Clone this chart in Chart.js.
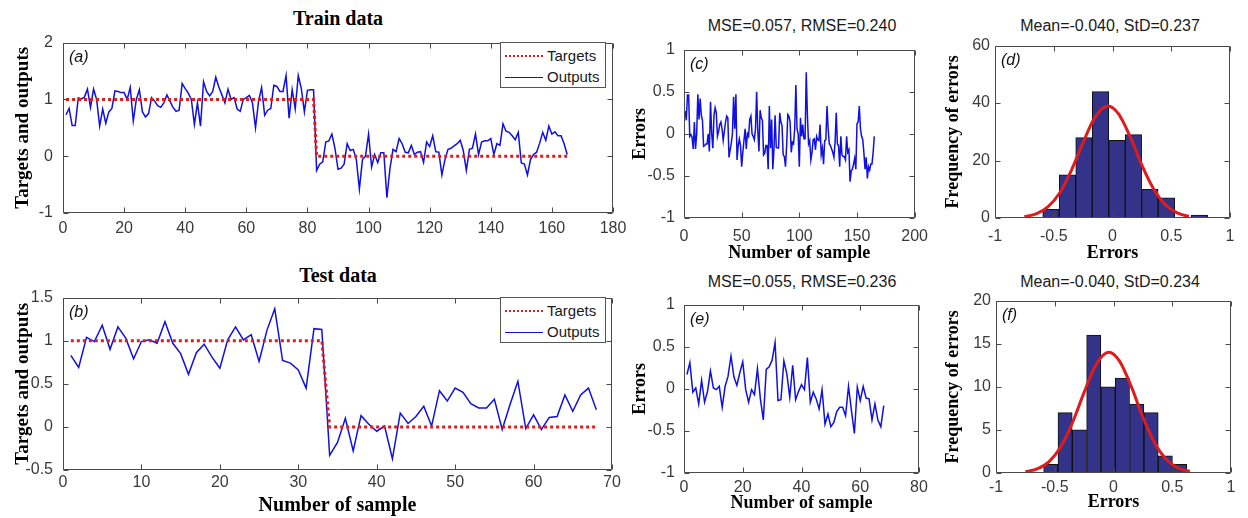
<!DOCTYPE html>
<html>
<head>
<meta charset="utf-8">
<script src="https://cdn.jsdelivr.net/npm/chart.js@4.4.1/dist/chart.umd.min.js"></script>
<style>
  html, body { margin: 0; padding: 0; background: #fff; }
  body { width: 1248px; height: 518px; position: relative; overflow: hidden; }
  canvas { position: absolute; }
  .ttl { position: absolute; transform: translate(-50%, -50%); white-space: nowrap; line-height: 1; }
  .serif { font-family: 'Liberation Serif', 'Times New Roman', serif; font-weight: bold; font-size: 20px; color: #000; }
  .sans { font-family: 'Liberation Sans', Arial, sans-serif; font-size: 16px; color: #1a1a1a; }
  .legend { position: absolute; width: 106px; height: 46px; border: 1px solid #555; background: #fff; box-sizing: border-box;
            font-family: 'Liberation Sans', Arial, sans-serif; font-size: 15px; color: #1a1a1a; }
  .legend .row { position: absolute; left: 0; width: 100%; height: 20px; line-height: 20px; }
  .legend .swatch { position: absolute; left: 4px; width: 38px; }
  .legend .lbl { position: absolute; left: 46px; top: 0; }
</style>
</head>
<body>
<div class="ttl serif" style="left:338px; top:18px;">Train data</div>
<div class="ttl serif" style="left:338px; top:275px;">Test data</div>
<div class="ttl sans" style="left:802px; top:26px;">MSE=0.057, RMSE=0.240</div>
<div class="ttl sans" style="left:1110px; top:26px;">Mean=-0.040, StD=0.237</div>
<div class="ttl sans" style="left:802px; top:282px;">MSE=0.055, RMSE=0.236</div>
<div class="ttl sans" style="left:1110px; top:282px;">Mean=-0.040, StD=0.234</div>

<canvas id="train-chart" width="635" height="220" style="left:0px; top:23px;"></canvas>
<canvas id="test-chart" width="634" height="240" style="left:0px; top:278px;"></canvas>
<canvas id="train-err" width="313" height="235" style="left:624px; top:31px;"></canvas>
<canvas id="train-hist" width="308" height="235" style="left:938px; top:31px;"></canvas>
<canvas id="test-err" width="313" height="232" style="left:624px; top:286px;"></canvas>
<canvas id="test-hist" width="308" height="232" style="left:939px; top:286px;"></canvas>

<div class="legend" style="left:500px; top:42px;">
  <div class="row" style="top:3px;"><div class="swatch" style="top:9px; border-top:2px dotted #e01b1b;"></div><span class="lbl">Targets</span></div>
  <div class="row" style="top:24px;"><div class="swatch" style="top:10px; border-top:1px solid #1010e0;"></div><span class="lbl">Outputs</span></div>
</div>
<div class="legend" style="left:500px; top:297px;">
  <div class="row" style="top:3px;"><div class="swatch" style="top:9px; border-top:2px dotted #e01b1b;"></div><span class="lbl">Targets</span></div>
  <div class="row" style="top:24px;"><div class="swatch" style="top:10px; border-top:1px solid #1010e0;"></div><span class="lbl">Outputs</span></div>
</div>

<script>
(function () {
  // ---- data ----
  var trainTargets = [
    1, 1, 1, 1, 1, 1, 1, 1, 1, 1,
    1, 1, 1, 1, 1, 1, 1, 1, 1, 1,
    1, 1, 1, 1, 1, 1, 1, 1, 1, 1,
    1, 1, 1, 1, 1, 1, 1, 1, 1, 1,
    1, 1, 1, 1, 1, 1, 1, 1, 1, 1,
    1, 1, 1, 1, 1, 1, 1, 1, 1, 1,
    1, 1, 1, 1, 1, 1, 1, 1, 1, 1,
    1, 1, 1, 1, 1, 1, 1, 1, 1, 1,
    1, 1, 0, 0, 0, 0, 0, 0, 0, 0,
    0, 0, 0, 0, 0, 0, 0, 0, 0, 0,
    0, 0, 0, 0, 0, 0, 0, 0, 0, 0,
    0, 0, 0, 0, 0, 0, 0, 0, 0, 0,
    0, 0, 0, 0, 0, 0, 0, 0, 0, 0,
    0, 0, 0, 0, 0, 0, 0, 0, 0, 0,
    0, 0, 0, 0, 0, 0, 0, 0, 0, 0,
    0, 0, 0, 0, 0, 0, 0, 0, 0, 0,
    0, 0, 0, 0, 0
  ];
  var trainOutputs = [
    0.73, 0.84, 0.54, 0.54, 1.03, 1.01, 1.04, 1.18, 0.86, 1.18,
    1.00, 0.53, 0.83, 0.58, 0.78, 0.84, 1.15, 1.14, 1.12, 1.12,
    1.00, 1.21, 0.62, 1.00, 1.17, 0.78, 0.69, 0.75, 1.03, 0.97,
    0.89, 0.86, 0.94, 1.08, 0.97, 0.86, 0.79, 0.81, 1.28, 1.19,
    1.11, 1.00, 0.56, 0.94, 0.53, 1.31, 1.14, 1.06, 1.14, 1.39,
    1.22, 1.08, 0.94, 1.18, 1.00, 1.03, 0.83, 0.79, 1.00, 1.03,
    1.07, 0.94, 0.50, 0.97, 1.21, 0.72, 0.81, 0.84, 1.25, 1.23,
    1.14, 1.14, 1.42, 0.67, 1.17, 0.83, 1.42, 1.19, 0.78, 1.16,
    1.17, 1.17, -0.25, -0.14, -0.10, 0.25, 0.27, 0.39, 0.14, -0.23,
    -0.21, -0.14, 0.22, 0.10, 0.12, -0.06, -0.58, -0.06, 0.00, 0.39,
    -0.19, 0.03, -0.11, 0.06, 0.06, -0.73, -0.22, 0.12, 0.08, 0.31,
    0.22, 0.07, 0.06, 0.19, 0.03, 0.07, 0.08, -0.11, 0.25, 0.17,
    0.36, 0.08, 0.07, -0.33, -0.06, 0.12, 0.14, 0.18, 0.22, 0.28,
    0.10, -0.25, 0.12, 0.14, 0.39, 0.03, 0.25, 0.27, 0.27, 0.31,
    0.03, 0.22, 0.19, 0.57, 0.44, 0.42, 0.36, 0.29, 0.42, -0.12,
    -0.14, -0.33, -0.06, 0.03, 0.07, 0.23, 0.42, 0.28, 0.53, 0.39,
    0.43, 0.36, 0.36, 0.22, 0.03
  ];
  var trainErrors = [
    0.27, 0.16, 0.46, 0.46, -0.03, -0.01, -0.04, -0.18, 0.14, -0.18,
    0.00, 0.47, 0.17, 0.42, 0.22, 0.16, -0.15, -0.14, -0.12, -0.12,
    0.00, -0.21, 0.38, 0.00, -0.17, 0.22, 0.31, 0.25, -0.03, 0.03,
    0.11, 0.14, 0.06, -0.08, 0.03, 0.14, 0.21, 0.19, -0.28, -0.19,
    -0.11, 0.00, 0.44, 0.06, 0.47, -0.31, -0.14, -0.06, -0.14, -0.39,
    -0.22, -0.08, 0.06, -0.18, 0.00, -0.03, 0.17, 0.21, 0.00, -0.03,
    -0.07, 0.06, 0.50, 0.03, -0.21, 0.28, 0.19, 0.16, -0.25, -0.23,
    -0.14, -0.14, -0.42, 0.33, -0.17, 0.17, -0.42, -0.19, 0.22, -0.16,
    -0.17, -0.17, 0.25, 0.14, 0.10, -0.25, -0.27, -0.39, -0.14, 0.23,
    0.21, 0.14, -0.22, -0.10, -0.12, 0.06, 0.58, 0.06, 0.00, -0.39,
    0.19, -0.03, 0.11, -0.06, -0.06, 0.73, 0.22, -0.12, -0.08, -0.31,
    -0.22, -0.07, -0.06, -0.19, -0.03, -0.07, -0.08, 0.11, -0.25, -0.17,
    -0.36, -0.08, -0.07, 0.33, 0.06, -0.12, -0.14, -0.18, -0.22, -0.28,
    -0.10, 0.25, -0.12, -0.14, -0.39, -0.03, -0.25, -0.27, -0.27, -0.31,
    -0.03, -0.22, -0.19, -0.57, -0.44, -0.42, -0.36, -0.29, -0.42, 0.12,
    0.14, 0.33, 0.06, -0.03, -0.07, -0.23, -0.42, -0.28, -0.53, -0.39,
    -0.43, -0.36, -0.36, -0.22, -0.03
  ];

  var testTargets = [
    1, 1, 1, 1, 1, 1, 1, 1, 1, 1,
    1, 1, 1, 1, 1, 1, 1, 1, 1, 1,
    1, 1, 1, 1, 1, 1, 1, 1, 1, 1,
    1, 1, 1, 0, 0, 0, 0, 0, 0, 0,
    0, 0, 0, 0, 0, 0, 0, 0, 0, 0,
    0, 0, 0, 0, 0, 0, 0, 0, 0, 0,
    0, 0, 0, 0, 0, 0, 0, 0
  ];
  var testOutputs = [
    0.83, 0.69, 1.04, 0.99, 1.18, 0.90, 1.16, 1.03, 0.79, 0.99,
    1.01, 0.97, 1.22, 0.97, 0.85, 0.61, 0.86, 0.96, 0.81, 0.68,
    1.01, 1.16, 1.01, 1.07, 0.76, 1.12, 1.37, 0.77, 0.74, 0.66,
    0.45, 1.14, 1.13, -0.33, -0.18, 0.10, -0.28, 0.13, 0.03, -0.05,
    0.01, -0.37, 0.16, 0.04, 0.12, 0.24, 0.01, 0.42, 0.30, 0.45,
    0.40, 0.27, 0.22, 0.22, 0.32, -0.03, 0.26, 0.53, -0.02, 0.14,
    -0.03, 0.11, 0.12, 0.37, 0.18, 0.37, 0.45, 0.20
  ];
  var testErrors = [
    0.17, 0.31, -0.04, 0.01, -0.18, 0.10, -0.16, -0.03, 0.21, 0.01,
    -0.01, 0.03, -0.22, 0.03, 0.15, 0.39, 0.14, 0.04, 0.19, 0.32,
    -0.01, -0.16, -0.01, -0.07, 0.24, -0.12, -0.37, 0.23, 0.26, 0.34,
    0.55, -0.14, -0.13, 0.33, 0.18, -0.10, 0.28, -0.13, -0.03, 0.05,
    -0.01, 0.37, -0.16, -0.04, -0.12, -0.24, -0.01, -0.42, -0.30, -0.45,
    -0.40, -0.27, -0.22, -0.22, -0.32, 0.03, -0.26, -0.53, 0.02, -0.14,
    0.03, -0.11, -0.12, -0.37, -0.18, -0.37, -0.45, -0.20
  ];

  // histograms: bin centres and counts, plus points
  var trainBinCenters = [-0.524, -0.383, -0.243, -0.102, 0.038, 0.178, 0.318, 0.459, 0.599, 0.740];
  var trainBinCounts = [3, 15, 28, 44, 27, 29, 10, 7, 0, 1];
  var testBinCenters = [-0.534, -0.412, -0.290, -0.168, -0.046, 0.076, 0.198, 0.320, 0.441, 0.563];
  var testBinCounts = [1, 7, 5, 16, 10, 11, 8, 7, 2, 1];
  var fitX = [-0.75, -0.65, -0.55, -0.45, -0.35, -0.25, -0.15, -0.04, 0.05, 0.15, 0.25, 0.35, 0.45, 0.55, 0.65];
  var trainFitY = [0.43, 1.42, 3.85, 8.7, 16.6, 26.3, 35.0, 39.0, 36.3, 28.3, 18.4, 10.1, 4.6, 1.76, 0.56];
  var testFitY = [0.14, 0.47, 1.30, 3.02, 5.82, 9.36, 12.54, 14.0, 13.0, 10.07, 6.5, 3.49, 1.56, 0.58, 0.18];

  // tick values
  var trainXTicks = [0, 20, 40, 60, 80, 100, 120, 140, 160, 180];
  var trainYTicks = [-1, 0, 1, 2];
  var testXTicks = [0, 10, 20, 30, 40, 50, 60, 70];
  var testYTicks = [-0.5, 0, 0.5, 1, 1.5];
  var trainErrXTicks = [0, 50, 100, 150, 200];
  var testErrXTicks = [0, 20, 40, 60, 80];
  var errYTicks = [-1, -0.5, 0, 0.5, 1];
  var histXTicks = [-1, -0.5, 0, 0.5, 1];
  var trainHistYTicks = [0, 20, 40, 60];
  var testHistYTicks = [0, 5, 10, 15, 20];

  var SANS = "'Liberation Sans', Arial, sans-serif";
  var SERIF = "'Liberation Serif', 'Times New Roman', serif";
  var AXIS = '#4a4a4a';
  var TICK = '#3a3a3a';
  var BLUE = '#1010e0';
  var RED = '#e01b1b';
  var NAVY = '#33338a';

  function points(values) {
    return values.map(function (v, i) { return { x: i + 1, y: v }; });
  }
  function pairs(xs, ys) {
    return xs.map(function (x, i) { return { x: x, y: ys[i] }; });
  }

  function scaleOpts(o) {
    return {
      type: 'linear',
      min: o.min,
      max: o.max,
      offset: false,
      grid: { display: false, drawTicks: false },
      border: { display: false },
      afterBuildTicks: function (scale) {
        scale.ticks = o.ticks.map(function (v) { return { value: v }; });
      },
      afterFit: function (scale) {
        if (o.axis === 'x') { scale.height = o.size; } else { scale.width = o.size; }
      },
      ticks: {
        color: TICK,
        font: { family: SANS, size: 16 },
        padding: o.pad,
        maxRotation: 0,
        autoSkip: false,
        callback: function (v) { return String(v); },
      },
      title: {
        display: !!o.title,
        text: o.title || '',
        color: '#000',
        font: { family: SERIF, size: o.titleSize || 18, weight: 'bold' },
        padding: o.titlePad || 0,
      },
    };
  }

  // MATLAB-like box with inward ticks on all four sides, plus the panel letter
  var matlabAxes = {
    id: 'matlabAxes',
    afterDatasetsDraw: function (chart, args, opts) {
      var ctx = chart.ctx;
      var a = chart.chartArea;
      var xs = chart.scales.x;
      var ys = chart.scales.y;
      var L = Math.round(a.left) + 0.5, R = Math.round(a.right) - 0.5;
      var T = Math.round(a.top) + 0.5, B = Math.round(a.bottom) - 0.5;
      ctx.save();
      ctx.strokeStyle = AXIS;
      ctx.lineWidth = 1;
      ctx.beginPath();
      ctx.rect(L, T, R - L, B - T);
      xs.ticks.forEach(function (t) {
        var p = Math.round(xs.getPixelForValue(t.value)) + 0.5;
        ctx.moveTo(p, B); ctx.lineTo(p, B - 5);
        ctx.moveTo(p, T); ctx.lineTo(p, T + 5);
      });
      ys.ticks.forEach(function (t) {
        var p = Math.round(ys.getPixelForValue(t.value)) + 0.5;
        ctx.moveTo(L, p); ctx.lineTo(L + 5, p);
        ctx.moveTo(R, p); ctx.lineTo(R - 5, p);
      });
      ctx.stroke();
      if (opts.letter) {
        ctx.fillStyle = '#111';
        ctx.font = 'italic 16px ' + SANS;
        ctx.textBaseline = 'middle';
        ctx.fillText(opts.letter, a.left + 6, a.top + 15);
      }
      ctx.restore();
    },
  };

  function baseOptions(letter, padRight, x, y) {
    return {
      responsive: false,
      animation: false,
      events: [],
      layout: { padding: { top: 10, right: padRight, left: 0, bottom: 0 } },
      plugins: {
        legend: { display: false },
        tooltip: { enabled: false },
        matlabAxes: { letter: letter },
      },
      scales: { x: x, y: y },
    };
  }

  function lineChart(id, letter, padRight, datasets, x, y) {
    return new Chart(document.getElementById(id), {
      type: 'line',
      data: { datasets: datasets },
      options: baseOptions(letter, padRight, x, y),
      plugins: [matlabAxes],
    });
  }

  function histChart(id, letter, centers, counts, fitY, x, y) {
    return new Chart(document.getElementById(id), {
      type: 'bar',
      data: {
        datasets: [
          {
            type: 'line',
            order: 0,
            data: pairs(fitX, fitY),
            borderColor: RED,
            borderWidth: 3,
            pointRadius: 0,
            cubicInterpolationMode: 'monotone',
          },
          {
            type: 'bar',
            order: 1,
            data: pairs(centers, counts),
            backgroundColor: NAVY,
            borderColor: '#111',
            borderWidth: 1,
            barPercentage: 1,
            categoryPercentage: 1,
          },
        ],
      },
      options: baseOptions(letter, 16, x, y),
      plugins: [matlabAxes],
    });
  }

  function targetsSet(values) {
    return { data: points(values), borderColor: RED, borderWidth: 3, borderDash: [3, 3], pointRadius: 0, tension: 0 };
  }
  function outputsSet(values) {
    return { data: points(values), borderColor: BLUE, borderWidth: 1.5, pointRadius: 0, tension: 0 };
  }

  // (a) train targets / outputs
  lineChart('train-chart', '(a)', 22,
    [targetsSet(trainTargets), outputsSet(trainOutputs)],
    scaleOpts({ axis: 'x', min: 0, max: 180, ticks: trainXTicks, size: 30, pad: 6 }),
    scaleOpts({ axis: 'y', min: -1, max: 2, ticks: trainYTicks, size: 63, pad: 10,
      title: 'Targets and outputs', titleSize: 19, titlePad: { top: 11.6, bottom: 0 } }));

  // (b) test targets / outputs
  lineChart('test-chart', '(b)', 22,
    [targetsSet(testTargets), outputsSet(testOutputs)],
    scaleOpts({ axis: 'x', min: 0, max: 70, ticks: testXTicks, size: 48, pad: 3,
      title: 'Number of sample', titleSize: 20, titlePad: { top: 0, bottom: 0 } }),
    scaleOpts({ axis: 'y', min: -0.5, max: 1.5, ticks: testYTicks, size: 63, pad: 10,
      title: 'Targets and outputs', titleSize: 19, titlePad: { top: 11.6, bottom: 0 } }));

  // (c) train errors
  lineChart('train-err', '(c)', 18,
    [outputsSet(trainErrors)],
    scaleOpts({ axis: 'x', min: 0, max: 200, ticks: trainErrXTicks, size: 48, pad: 9,
      title: 'Number of sample', titlePad: { top: 0, bottom: 2.2 } }),
    scaleOpts({ axis: 'y', min: -1, max: 1, ticks: errYTicks, size: 60, pad: 9,
      title: 'Errors', titlePad: { top: 5.2, bottom: 0 } }));

  // (d) train error histogram
  histChart('train-hist', '(d)', trainBinCenters, trainBinCounts, trainFitY,
    scaleOpts({ axis: 'x', min: -1, max: 1, ticks: histXTicks, size: 48, pad: 9,
      title: 'Errors', titlePad: { top: 0, bottom: 2.2 } }),
    scaleOpts({ axis: 'y', min: 0, max: 60, ticks: trainHistYTicks, size: 57, pad: 5,
      title: 'Frequency of errors', titlePad: { top: 4.7, bottom: 0 } }));

  // (e) test errors
  lineChart('test-err', '(e)', 18,
    [outputsSet(testErrors)],
    scaleOpts({ axis: 'x', min: 0, max: 80, ticks: testErrXTicks, size: 45, pad: 5,
      title: 'Number of sample', titlePad: { top: 0, bottom: 4 } }),
    scaleOpts({ axis: 'y', min: -1, max: 1, ticks: errYTicks, size: 60, pad: 9,
      title: 'Errors', titlePad: { top: 5.2, bottom: 0 } }));

  // (f) test error histogram
  histChart('test-hist', '(f)', testBinCenters, testBinCounts, testFitY,
    scaleOpts({ axis: 'x', min: -1, max: 1, ticks: histXTicks, size: 45, pad: 5,
      title: 'Errors', titlePad: { top: 0, bottom: 5 } }),
    scaleOpts({ axis: 'y', min: 0, max: 20, ticks: testHistYTicks, size: 57, pad: 5,
      title: 'Frequency of errors', titlePad: { top: 3.7, bottom: 0 } }));
})();
</script>
</body>
</html>
